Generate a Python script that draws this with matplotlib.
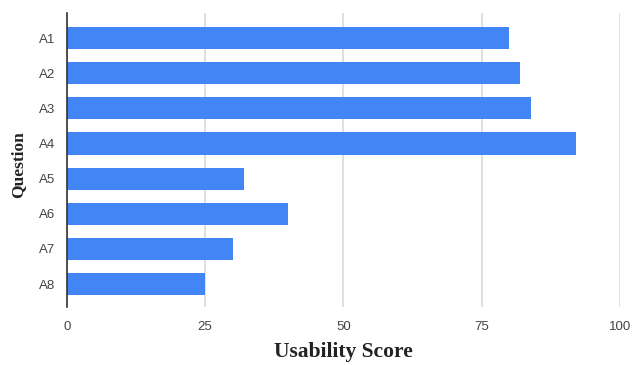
import matplotlib.pyplot as plt

# Usability scores per question
questions = ['A1', 'A2', 'A3', 'A4', 'A5', 'A6', 'A7', 'A8']
scores = [80, 82, 84, 92, 32, 40, 30, 25]
xticks = [0, 25, 50, 75, 100]

fig = plt.figure(figsize=(6.33, 3.65), dpi=100)
ax = fig.add_axes([0.1054, 0.159, 0.874, 0.805])

ax.barh(range(len(questions)), scores, height=0.63, color='#4285F4', zorder=3)

ax.set_xlim(0, 100)
ax.set_ylim(len(questions) - 1 + 0.65, -0.71)
ax.set_xticks(xticks)
ax.set_yticks(range(len(questions)))
ax.set_yticklabels(questions)

ax.grid(axis='x', color='#d9d9d9', linewidth=1.2, zorder=0)
for side in ['top', 'right', 'bottom']:
    ax.spines[side].set_visible(False)
ax.spines['left'].set_color('#333333')
ax.spines['left'].set_linewidth(1.2)
ax.spines['left'].set_zorder(4)

ax.tick_params(axis='both', length=0, labelsize=9.5, labelcolor='#444444')
ax.tick_params(axis='x', pad=10)
ax.tick_params(axis='y', pad=8)
for lbl in ax.get_xticklabels() + ax.get_yticklabels():
    lbl.set_family('Liberation Sans')

ax.set_xlabel('Usability Score', family='Liberation Serif', fontweight='bold',
              fontsize=15.5, color='#222222', va='center')
ax.set_ylabel('Question', family='Liberation Serif', fontweight='bold',
              fontsize=12.5, color='#222222', va='center')
ax.xaxis.set_label_coords(0.5, -0.153)
ax.yaxis.set_label_coords(-0.088, 0.483)

fig.savefig('out.png', dpi=100)
